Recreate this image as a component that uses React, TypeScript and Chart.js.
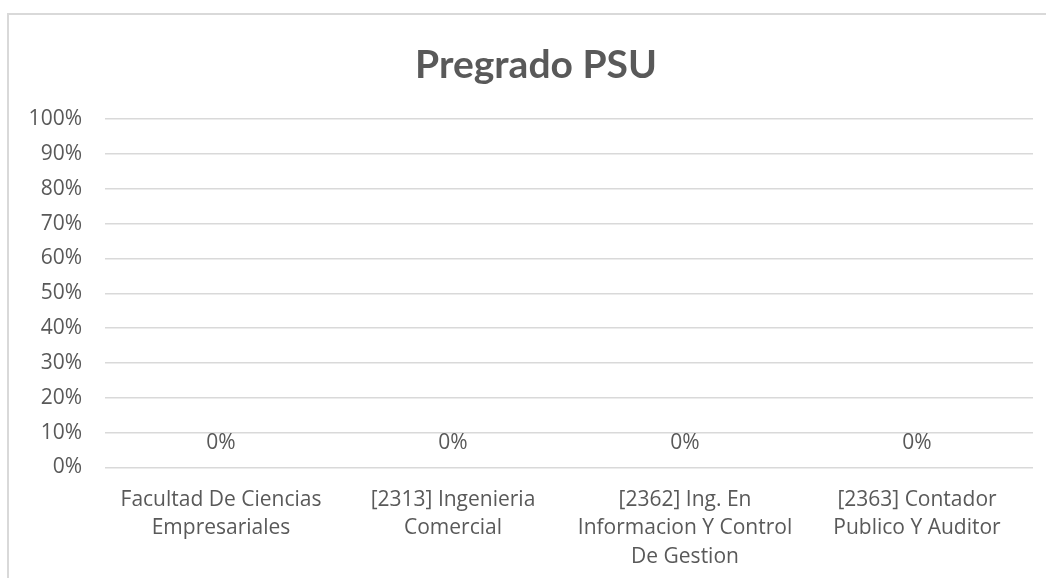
import React, { useEffect, useRef } from "react";
import { Chart, registerables } from "chart.js";

Chart.register(...registerables);

const categories: string[][] = [
  ["Facultad De Ciencias", "Empresariales"],
  ["[2313] Ingenieria", "Comercial"],
  ["[2362] Ing. En", "Informacion Y Control", "De Gestion"],
  ["[2363] Contador", "Publico Y Auditor"],
];
const seriesValues: number[] = [0, 0, 0, 0];
const yTickValues: number[] = [0, 0.1, 0.2, 0.3, 0.4, 0.5, 0.6, 0.7, 0.8, 0.9, 1];
const titleText = "Pregrado PSU";

const TEXT = "#595959";
const GRID = "#d9d9d9";

const dataLabelPlugin = {
  id: "dataLabels",
  afterDatasetsDraw(chart: any) {
    const ctx = chart.ctx;
    ctx.save();
    ctx.font = "21px 'Open Sans'";
    ctx.fillStyle = TEXT;
    ctx.textAlign = "center";
    ctx.textBaseline = "middle";
    chart.data.datasets.forEach((ds: any, di: number) => {
      const meta = chart.getDatasetMeta(di);
      meta.data.forEach((el: any, i: number) => {
        const v = ds.data[i] as number;
        ctx.fillText(Math.round(v * 100) + "%", el.x, el.y - 24);
      });
    });
    ctx.restore();
  },
};

const titlePlugin = {
  id: "frameTitle",
  afterDraw(chart: any) {
    const ctx = chart.ctx;
    ctx.save();
    ctx.font = "bold 39px Lato";
    ctx.fillStyle = TEXT;
    ctx.textAlign = "center";
    ctx.textBaseline = "middle";
    ctx.fillText(titleText, 536, 65);
    ctx.restore();
  },
};

export default function App() {
  const ref = useRef<HTMLCanvasElement | null>(null);
  useEffect(() => {
    if (!ref.current) return;
    const chart = new Chart(ref.current, {
      type: "bar",
      data: {
        labels: categories,
        datasets: [
          {
            label: titleText,
            data: seriesValues,
            backgroundColor: "#4472C4",
          },
        ],
      },
      options: {
        animation: false,
        responsive: false,
        devicePixelRatio: 1,
        layout: { padding: { left: 0, right: 13, top: 119, bottom: 0 } },
        plugins: {
          legend: { display: false },
          tooltip: { enabled: false },
          title: { display: false },
        },
        scales: {
          x: {
            grid: { display: false, drawTicks: false },
            border: { display: false },
            ticks: {
              color: TEXT,
              font: { family: "'Open Sans'", size: 21, lineHeight: 1.36 },
              padding: 18,
              maxRotation: 0,
              minRotation: 0,
              autoSkip: false,
            },
            afterFit: (s: any) => {
              s.height = 110.5;
            },
          },
          y: {
            min: 0,
            max: 1,
            afterBuildTicks: (s: any) => {
              s.ticks = yTickValues.map((v) => ({ value: v }));
            },
            grid: { color: GRID, lineWidth: 1.5, drawTicks: false },
            border: { display: false },
            ticks: {
              color: TEXT,
              font: { family: "'Open Sans'", size: 21 },
              padding: 23,
              callback: (v: any) => Math.round(Number(v) * 100) + "%",
            },
            afterFit: (s: any) => {
              s.width = 105;
            },
          },
        },
      },
      plugins: [dataLabelPlugin, titlePlugin],
    });
    return () => chart.destroy();
  }, []);

  return (
    <div
      style={{
        position: "fixed",
        left: 0,
        top: 0,
        width: 1046,
        height: 578,
        overflow: "hidden",
        background: "#fff",
      }}
    >
      <div
        style={{
          position: "absolute",
          left: 7,
          top: 13,
          width: 1100,
          height: 700,
          border: "2px solid #d9d9d9",
          boxSizing: "border-box",
        }}
      />
      <canvas
        ref={ref}
        width={1046}
        height={578}
        style={{ position: "absolute", left: 0, top: 0, width: 1046, height: 578 }}
      />
    </div>
  );
}
